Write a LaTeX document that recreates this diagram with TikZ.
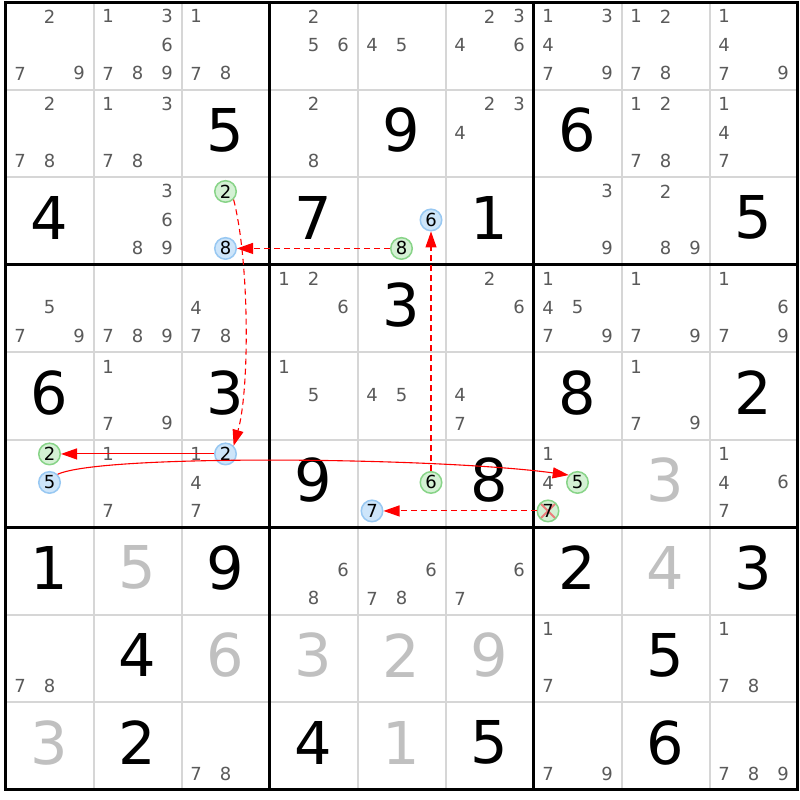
\documentclass[tikz,border=0pt]{standalone}
\usepackage{fontspec}
\setmainfont{DejaVu Sans}
\usetikzlibrary{arrows.meta}
\definecolor{candgray}{HTML}{5A5A5A}
\definecolor{solvedgray}{HTML}{C0C0C0}
\definecolor{thingrid}{HTML}{D6D6D6}
\definecolor{gfill}{HTML}{D4F1D4}
\definecolor{gline}{HTML}{88D488}
\definecolor{bfill}{HTML}{CDE5FA}
\definecolor{bline}{HTML}{98C8F2}
\definecolor{xline}{HTML}{EC7C7C}
\definecolor{linkred}{HTML}{FF0000}
\newcommand\candx[2]{\pgfmathsetmacro\px{49.5+88*(#1-1)+(mod(#2-1,3)-1)*29.5}}
\newcommand\candy[2]{\pgfmathsetmacro\py{800-(44.95+87.5*(#1-1)+(floor((#2-1)/3)-1)*28.5)}}
\newcommand\putcirc[5]{\candx{#3}{#5}\candy{#2}{#5}\node[#1] (#4) at (\px,\py) {#5};}
\begin{document}
\begin{tikzpicture}[x=1pt,y=1pt,
  cand/.style={font=\fontsize{18}{18}\selectfont, text=candgray, inner sep=0pt},
  given/.style={font=\fontsize{59}{59}\selectfont, text=black, inner sep=0pt},
  solved/.style={given, text=solvedgray},
  circ/.style={circle, minimum size=21.5pt, inner sep=0pt, line width=1.5pt, text=black, font=\fontsize{18}{18}\selectfont},
  gc/.style={circ, draw=gline, fill=gfill},
  bc/.style={circ, draw=bline, fill=bfill},
  gx/.style={gc, path picture={\draw[xline,line width=2pt] (path picture bounding box.north west)--(path picture bounding box.south east) (path picture bounding box.north east)--(path picture bounding box.south west);}},
  strong/.style={draw=linkred, line width=1.1pt, -{Triangle[length=16pt,width=11pt]}},
  weak/.style={strong, dash pattern=on 6pt off 4pt}]
\useasboundingbox (0,0) rectangle (800,800);
\fill[white] (0,0) rectangle (800,800);
% thin grid
\foreach \i in {1,2,4,5,7,8}{
  \draw[thingrid, line width=2pt] ({5.5+88*\i},797.5) -- ({5.5+88*\i},10);
  \draw[thingrid, line width=2pt] (5.5,{797.5-87.5*\i}) -- (797.5,{797.5-87.5*\i});
}
% thick grid
\foreach \i in {0,3,6,9}{
  \draw[black, line width=3pt] ({5.5+88*\i},799) -- ({5.5+88*\i},8.5);
  \draw[black, line width=3pt] (4,{797.5-87.5*\i}) -- (799,{797.5-87.5*\i});
}
% candidates
\foreach \r/\c/\L in {1/1/{2,7,9}, 1/2/{1,3,6,7,8,9}, 1/3/{1,7,8}, 1/4/{2,5,6}, 1/5/{4,5}, 1/6/{2,3,4,6}, 1/7/{1,3,4,7,9}, 1/8/{1,2,7,8}, 1/9/{1,4,7,9},
  2/1/{2,7,8}, 2/2/{1,3,7,8}, 2/4/{2,8}, 2/6/{2,3,4}, 2/8/{1,2,7,8}, 2/9/{1,4,7},
  3/2/{3,6,8,9}, 3/7/{3,9}, 3/8/{2,8,9},
  4/1/{5,7,9}, 4/2/{7,8,9}, 4/3/{4,7,8}, 4/4/{1,2,6}, 4/6/{2,6}, 4/7/{1,4,5,7,9}, 4/8/{1,7,9}, 4/9/{1,6,7,9},
  5/2/{1,7,9}, 5/4/{1,5}, 5/5/{4,5}, 5/6/{4,7}, 5/8/{1,7,9},
  6/2/{1,7}, 6/3/{1,4,7}, 6/7/{1,4}, 6/9/{1,4,6,7},
  7/4/{6,8}, 7/5/{6,7,8}, 7/6/{6,7},
  8/1/{7,8}, 8/7/{1,7}, 8/9/{1,7,8},
  9/3/{7,8}, 9/7/{7,9}, 9/9/{7,8,9}}{
  \foreach \k in \L {
    \candx{\c}{\k}\candy{\r}{\k}
    \node[cand] (n\r\c\k) at (\px,\py) {\k};
  }
}
% givens
\foreach \r/\c/\d in {2/3/5, 2/5/9, 2/7/6, 3/1/4, 3/4/7, 3/6/1, 3/9/5, 4/5/3, 5/1/6, 5/3/3, 5/7/8, 5/9/2, 6/4/9, 6/6/8, 7/1/1, 7/3/9, 7/7/2, 7/9/3, 8/2/4, 8/8/5, 9/2/2, 9/4/4, 9/6/5, 9/8/6}{
  \node[given] (g\r\c) at ({49.5+88*(\c-1)},{800-(42.75+87.5*(\r-1))}) {\d};
}
% solved
\foreach \r/\c/\d in {6/8/3, 7/2/5, 7/8/4, 8/3/6, 8/4/3, 8/5/2, 8/6/9, 9/1/3, 9/5/1}{
  \node[solved] (s\r\c) at ({49.5+88*(\c-1)},{800-(42.75+87.5*(\r-1))}) {\d};
}
% circled candidates
\putcirc{gc}{3}{3}{a33two}{2}
\putcirc{bc}{3}{3}{a33eight}{8}
\putcirc{bc}{3}{5}{a35six}{6}
\putcirc{gc}{3}{5}{a35eight}{8}
\putcirc{gc}{6}{1}{a61two}{2}
\putcirc{bc}{6}{1}{a61five}{5}
\putcirc{bc}{6}{3}{a63two}{2}
\putcirc{gc}{6}{5}{a65six}{6}
\putcirc{bc}{6}{5}{a65seven}{7}
\putcirc{gc}{6}{7}{a67five}{5}
\putcirc{gx}{6}{7}{a67seven}{7}
% links
\draw[weak] (a35eight) -- (a33eight);
\draw[weak] (a33two.-45) .. controls +(16,-62.6) and +(16,55.6) .. (a63two.45);
\draw[strong] (a63two) -- (a61two);
\draw[strong] (a61five.45) .. controls +(43.6,20.6) and +(-128.6,17.6) .. (a67five.140);
\draw[weak] (a65six) -- (a35six);
\draw[weak] (a67seven) -- (a65seven);
\end{tikzpicture}
\end{document}
